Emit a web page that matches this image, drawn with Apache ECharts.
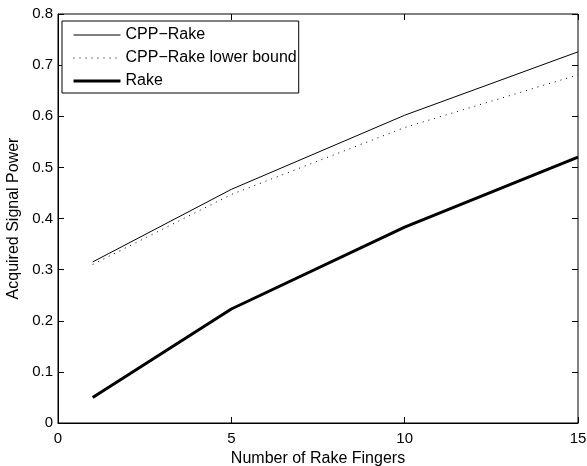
<!DOCTYPE html>
<html>
<head>
<meta charset="utf-8">
<script src="https://cdn.jsdelivr.net/npm/echarts@6/dist/echarts.min.js"></script>
<style>
  html, body { margin: 0; padding: 0; background: #fff; }
  #chart { width: 587px; height: 466px; }
</style>
</head>
<body>
<div id="chart"></div>
<script>
// rake fingers on the x axis
const fingers = [1, 5, 10, 15]
const cppRake = [0.315, 0.457, 0.602, 0.726]
const cppLowerBound = [0.310, 0.447, 0.578, 0.681]
const rake = [0.050, 0.223, 0.383, 0.520]

const seriesNames = ['CPP\u2212Rake', 'CPP\u2212Rake lower bound', 'Rake']

const toPairs = (ys) => fingers.map((x, i) => [x, ys[i]])

const font = 'Liberation Sans, Arial, Helvetica, sans-serif'
const chart = echarts.init(document.getElementById('chart'))

const thin = { color: '#000', width: 1 }
const dotted = { color: '#000', width: 1, type: [1, 5] }
const thick = { color: '#000', width: 3 }

// tick-only axes for the top and right edges of the box
const mirrorAxis = () => ({
  axisLine: { show: false, onZero: false },
  axisLabel: { show: false },
  splitLine: { show: false },
  axisTick: { show: true, inside: true, length: 6, lineStyle: { color: '#000' } }
})

chart.setOption({
  animation: false,
  textStyle: { fontFamily: font },
  grid: {
    left: 58, right: 9, top: 14, bottom: 43,
    outerBoundsMode: 'none',
    show: true, borderColor: '#000', borderWidth: 1
  },
  legend: {
    left: 62, top: 21,
    orient: 'vertical',
    backgroundColor: '#fff',
    borderColor: '#000', borderWidth: 1,
    padding: [6, 2, 4, 10],
    itemGap: 7,
    itemWidth: 47, itemHeight: 14,
    itemStyle: { opacity: 0 },
    textStyle: { fontFamily: font, fontSize: 16, color: '#000' },
    data: [
      { name: seriesNames[0], lineStyle: thin },
      { name: seriesNames[1], lineStyle: dotted },
      { name: seriesNames[2], lineStyle: thick }
    ]
  },
  xAxis: [
    {
      type: 'value', min: 0, max: 15, interval: 5, position: 'bottom',
      name: 'Number of Rake Fingers', nameLocation: 'middle', nameGap: 28,
      nameTextStyle: { fontFamily: font, fontSize: 16, color: '#000' },
      axisLine: { show: true, onZero: false, lineStyle: { color: '#000', width: 1 } },
      axisTick: { inside: true, length: 6, lineStyle: { color: '#000' } },
      axisLabel: { color: '#000', fontSize: 15, fontFamily: font, margin: 8 },
      splitLine: { show: false }
    },
    Object.assign({ type: 'value', min: 0, max: 15, interval: 5, position: 'top' }, mirrorAxis())
  ],
  yAxis: [
    {
      type: 'value', min: 0, max: 0.8, interval: 0.1, position: 'left',
      name: 'Acquired Signal Power', nameLocation: 'middle', nameGap: 32,
      nameTextStyle: { fontFamily: font, fontSize: 16, color: '#000' },
      axisLine: { show: true, onZero: false, lineStyle: { color: '#000', width: 1 } },
      axisTick: { inside: true, length: 6, lineStyle: { color: '#000' } },
      axisLabel: {
        color: '#000', fontSize: 15, fontFamily: font, margin: 5,
        formatter: (v) => (v === 0 ? '0' : v.toFixed(1))
      },
      splitLine: { show: false }
    },
    Object.assign({ type: 'value', min: 0, max: 0.8, interval: 0.1, position: 'right' }, mirrorAxis())
  ],
  series: [
    {
      name: seriesNames[0], type: 'line', symbol: 'none',
      data: toPairs(cppRake),
      lineStyle: thin, itemStyle: { color: '#000' }
    },
    {
      name: seriesNames[1], type: 'line', symbol: 'none',
      data: toPairs(cppLowerBound),
      lineStyle: dotted, itemStyle: { color: '#000' }
    },
    {
      name: seriesNames[2], type: 'line', symbol: 'none',
      data: toPairs(rake),
      lineStyle: thick, itemStyle: { color: '#000' }
    }
  ]
})
</script>
</body>
</html>
